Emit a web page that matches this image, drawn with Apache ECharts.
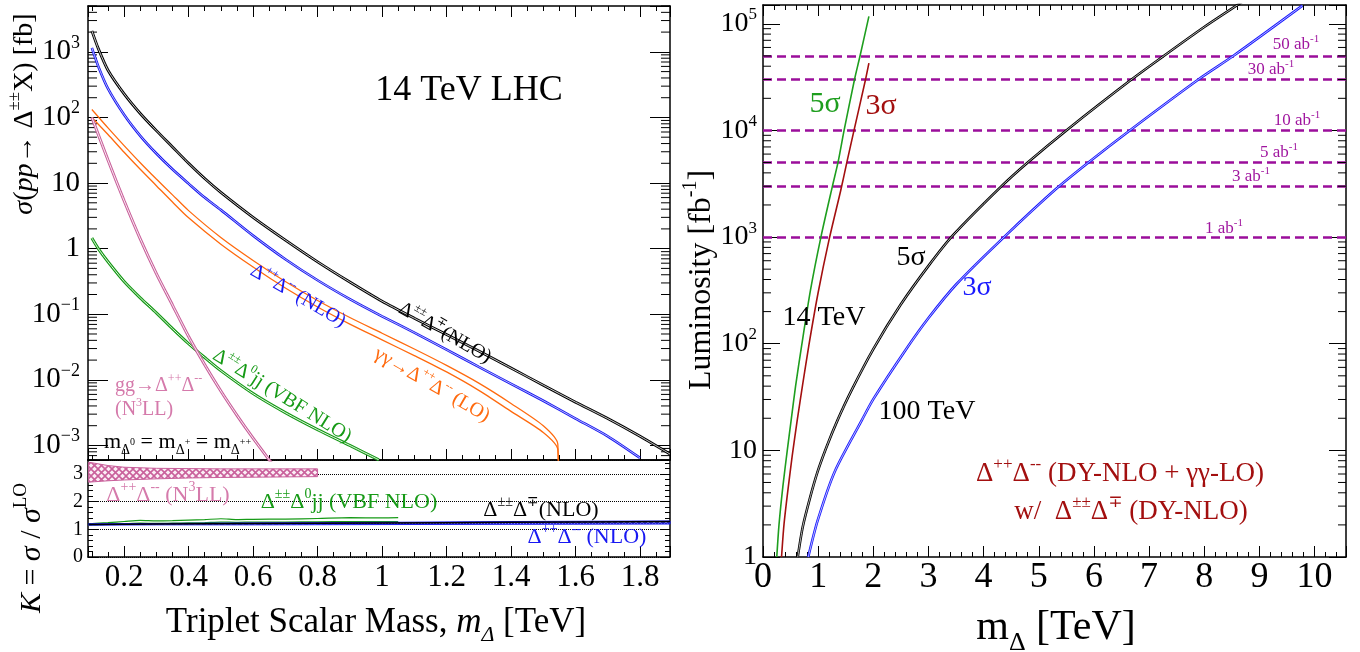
<!DOCTYPE html>
<html><head><meta charset="utf-8">
<script src="https://cdn.jsdelivr.net/npm/echarts@6/dist/echarts.min.js"></script>
<style>html,body{margin:0;padding:0;background:#fff}#c{width:1360px;height:652px}</style>
</head><body><div id="c"></div>
<script>
// ---------------- DATA ----------------
// Left top panel: cross sections sigma [fb] vs mass [TeV]
const massDYpair = [0.10,0.12,0.15,0.20,0.25,0.30,0.35,0.40,0.45,0.50,0.60,0.70,0.80,0.90,1.00,1.10,1.20,1.30,1.40,1.50,1.60,1.70,1.80,1.893];
const xsPairNLO  = [2090,1120,525,229,115,63,35.5,20,11.7,7.2,3.0,1.35,0.63,0.31,0.158,0.087,0.049,0.0275,0.0151,0.0083,0.00457,0.00257,0.00138,0.00074];
const massDYdd   = [0.10,0.12,0.15,0.20,0.25,0.30,0.35,0.40,0.45,0.50,0.60,0.70,0.80,0.90,1.00,1.10,1.20,1.30,1.40,1.50,1.60,1.70,1.80];
const xsDDNLO    = [1150,600,275,110,52.5,28.2,16.2,9.8,6.0,3.9,1.58,0.69,0.33,0.17,0.093,0.0525,0.0288,0.0158,0.0087,0.0048,0.00257,0.00138,0.000646];
const massAA     = [0.10,0.15,0.20,0.25,0.30,0.35,0.40,0.50,0.60,0.70,0.80,0.90,1.00,1.10,1.20,1.30,1.40,1.50,1.545,1.548];
const xsAAHigh   = [132,69.2,37.2,20.4,11.5,6.61,3.80,1.48,0.661,0.316,0.162,0.0891,0.0513,0.0295,0.0166,0.00891,0.00437,0.00200,0.00105,0.0001];
const xsAALow    = [100,55.0,29.5,16.2,9.12,5.13,2.95,1.17,0.525,0.251,0.129,0.0708,0.0407,0.0234,0.0132,0.00692,0.00331,0.00158,0.00087,0.0001];
const massVBF    = [0.10,0.12,0.15,0.20,0.25,0.30,0.35,0.40,0.45,0.50,0.60,0.70,0.80,0.90,0.99];
const xsVBF      = [1.45,1.0,0.631,0.316,0.178,0.105,0.0603,0.0355,0.0219,0.0138,0.00617,0.00316,0.00174,0.00100,0.000603];
const massGG     = [0.10,0.15,0.20,0.25,0.30,0.35,0.40,0.45,0.50,0.55,0.60,0.65,0.67];
const xsGG       = [100,22.4,5.37,1.41,0.417,0.138,0.0457,0.0170,0.00676,0.00288,0.00129,0.000603,0.000447];
// Left bottom panel: K factors
const kMassN3LL  = [0.09,0.15,0.20,0.30,0.40,0.50,0.60,0.70,0.80];
const kN3LLHigh  = [3.42,3.30,3.24,3.20,3.19,3.18,3.18,3.18,3.18];
const kN3LLLow   = [2.70,2.75,2.78,2.82,2.85,2.87,2.88,2.89,2.90];
const kMassVBF   = [0.09,0.15,0.20,0.25,0.30,0.35,0.40,0.45,0.50,0.55,0.60,0.70,0.80,0.90,1.00,1.05];
const kVBFHigh   = [1.20,1.24,1.28,1.32,1.30,1.31,1.33,1.35,1.38,1.35,1.36,1.37,1.39,1.42,1.41,1.42];
const kVBFLow    = [1.16,1.18,1.20,1.22,1.21,1.22,1.23,1.24,1.26,1.25,1.26,1.26,1.27,1.28,1.28,1.28];
const kMassDY    = [0.09,0.30,0.60,1.00,1.40,1.893];
const kPairNLO   = [1.17,1.19,1.21,1.23,1.25,1.28];
const kDDHigh    = [1.20,1.21,1.23,1.25,1.28,1.30];
const kDDLow     = [1.15,1.16,1.16,1.17,1.18,1.19];
// Right panel: luminosity [fb^-1] vs mass [TeV]
const mass5s14   = [0.25,0.29,0.36,0.44,0.51,0.59,0.70,0.86,1.05,1.26,1.36,1.47,1.66,1.76,1.92];
const lum5s14    = [1,2.0,4.57,10,19.1,39.8,95.5,316,1000,3020,5010,10000,30200,50100,117500];
const mass3s14   = [0.336,0.38,0.45,0.53,0.62,0.72,0.83,1.0,1.2,1.41,1.52,1.65,1.86,1.92];
const lum3s14    = [1,2.0,4.17,8.91,19.1,41.7,95.5,302,955,2750,5010,10000,30200,42700];
const mass5s100  = [0.63,0.72,0.85,0.99,1.15,1.35,1.6,2.0,2.5,3.0,3.45,4.33,4.8,5.55,6.65,7.19,8.0,8.7];
const lum5s100   = [1,1.91,3.55,6.31,10.7,19.1,36.1,89.1,234,537,1047,3020,5010,10500,29200,46800,93300,162000];
const mass3s100  = [0.82,0.99,1.3,1.79,2.0,2.57,3.0,3.51,4.37,5.31,5.9,6.65,7.9,8.53,9.78];
const lum3s100   = [1,2.19,6.31,19.1,30.2,85.1,174,363,1000,2820,5010,10000,30200,50100,147900];
const lumiLines  = [1000,3000,5000,10000,30000,50000];
const lumiLabels = ['1','3','5','10','30','50'];

// ---------------- STYLE ----------------
const FONT = "'Liberation Serif','DejaVu Serif','Times New Roman',serif";
const C = {black:'#000', blue:'#1818f2', orange:'#ff6a0e', green:'#169a16', pink:'#c9609b', pinkT:'#d57aab',
           red:'#a30f0f', purple:'#9b0e9b', blueR:'#1a1aff', greenR:'#1e9e1e'};
const X0 = [0.088, 1.893], XR = [0, 10.57], YL = [6e-4, 5000], YR = [1, 150000], YK = [0, 3.5];

function pairs(xs, ys){ return xs.map((x,i)=>[x, ys[i]]); }
function richSet(size, color){
  const s = Math.round(size*0.62), lh = Math.round(size*1.35), t = Math.round(size*0.45);
  const base = {fontFamily: FONT, color: color, fill: color};
  return {
    b:  Object.assign({}, base, {fontSize:size, lineHeight:lh}),
    i:  Object.assign({}, base, {fontSize:size, lineHeight:lh, fontStyle:'italic'}),
    sp: Object.assign({}, base, {fontSize:s, lineHeight:s, verticalAlign:'top'}),
    sb: Object.assign({}, base, {fontSize:s, lineHeight:s, verticalAlign:'bottom'}),
    sbi:Object.assign({}, base, {fontSize:s, lineHeight:s, verticalAlign:'bottom', fontStyle:'italic'}),
    ss: Object.assign({}, base, {fontSize:t, lineHeight:t, verticalAlign:'middle'})
  };
}
function T(x, y, text, size, color, rot, align){
  const a = align || 'center';
  return {type:'text', x:x, y:y, rotation:(rot||0)*Math.PI/180, z:100, silent:true,
    style:{text:text, rich:richSet(size,color), fill:color, font:size+'px '+FONT,
           align:a, verticalAlign:'middle', textAlign:a, textVerticalAlign:'middle'}};
}
function line(xi, yi, data, color, width, z){
  return {type:'line', xAxisIndex:xi, yAxisIndex:yi, data:data, showSymbol:false, symbol:'none',
    smooth:0.25, lineStyle:{color:color, width:width}, z:z, silent:true, animation:false};
}
function hollow(xi, yi, data, color, w, inner, z){
  return [line(xi, yi, data, color, w, z), line(xi, yi, data, '#ffffff', inner, z+1)];
}
function hatch(bg, fg, size, lw){
  const c = document.createElement('canvas'); c.width = c.height = size;
  const g = c.getContext('2d'); g.fillStyle = bg; g.fillRect(0,0,size,size);
  g.strokeStyle = fg; g.lineWidth = lw; g.beginPath();
  g.moveTo(0,0); g.lineTo(size,size); g.moveTo(size,0); g.lineTo(0,size); g.stroke();
  return {type:'pattern', image:c, repeat:'repeat'};
}
function band(xi, yi, xs, hi, lo, fill, stroke, z){
  return {type:'custom', xAxisIndex:xi, yAxisIndex:yi, silent:true, z:z, animation:false,
    data:[[xs[0], hi[0]]],
    renderItem:function(p, api){
      const top = xs.map((x,i)=>api.coord([x, hi[i]]));
      const bot = xs.map((x,i)=>api.coord([x, lo[i]])).reverse();
      return {type:'polygon', shape:{points: top.concat(bot)}, style:{fill:fill, stroke:stroke, lineWidth:1}};
    }};
}
function logMinors(lo, hi){
  const out = [];
  for (let e = Math.floor(Math.log10(lo)); e <= Math.ceil(Math.log10(hi)); e++)
    for (let k = 2; k <= 9; k++){ const v = k*Math.pow(10,e); if (v >= lo && v <= hi) out.push(v); }
  return out;
}
function minorTickSeries(xi, yi, xr, yr, len){
  return {type:'custom', xAxisIndex:xi, yAxisIndex:yi, silent:true, clip:false, z:5, animation:false,
    data: logMinors(yr[0], yr[1]).map(v=>[xr[0], v]),
    renderItem:function(p, api){
      const v = api.value(1);
      const a = api.coord([xr[0], v]), b = api.coord([xr[1], v]);
      return {type:'group', children:[
        {type:'line', shape:{x1:a[0], y1:a[1], x2:a[0]+len, y2:a[1]}, style:{stroke:'#000', lineWidth:1}},
        {type:'line', shape:{x1:b[0], y1:b[1], x2:b[0]-len, y2:b[1]}, style:{stroke:'#000', lineWidth:1}}]};
    }};
}
const axLine = {show:true, onZero:false, lineStyle:{color:'#000', width:1.5}};
function logFmt(v){
  const e = Math.round(Math.log10(v));
  if (Math.abs(Math.log10(v) - e) > 1e-6) return '';
  if (e === 0) return '{b|1}';
  if (e === 1) return '{b|10}';
  return '{b|10}{sp|' + (e < 0 ? '\u2212' + (-e) : e) + '}';
}
function xAx(grid, pos, xr, opts){
  return Object.assign({gridIndex:grid, type:'value', position:pos, min:xr[0], max:xr[1],
    axisLine:axLine, splitLine:{show:false},
    axisTick:{show:true, inside:true, length:11, lineStyle:{color:'#000', width:1}},
    minorTick:{show:true, splitNumber:4, length:5, lineStyle:{color:'#000', width:1}},
    axisLabel:{show:false}}, opts||{});
}
function yLog(grid, pos, yr, tickLen, labelSize, margin){
  return {gridIndex:grid, type:'log', logBase:10, position:pos, min:yr[0], max:yr[1],
    axisLine:axLine, splitLine:{show:false}, minorTick:{show:false}, minorSplitLine:{show:false},
    axisTick:{show:true, inside:true, length:tickLen, lineStyle:{color:'#000', width:1}},
    axisLabel: labelSize ? {show:true, margin:margin, formatter:logFmt, color:'#000',
      rich:{b:{fontSize:labelSize, fontFamily:FONT, color:'#000', lineHeight:Math.round(labelSize*1.25)},
            sp:{fontSize:Math.round(labelSize*0.62), fontFamily:FONT, color:'#000', verticalAlign:'top', lineHeight:Math.round(labelSize*0.62)}}}
      : {show:false}};
}
function yK(pos, labels){
  return {gridIndex:1, type:'value', position:pos, min:YK[0], max:YK[1], interval:1,
    axisLine:axLine,
    axisTick:{show:true, inside:true, length:10, lineStyle:{color:'#000', width:1}},
    minorTick:{show:true, splitNumber:5, length:5, lineStyle:{color:'#000', width:1}},
    splitLine:{show:labels, lineStyle:{type:'dotted', color:'#000', width:1}},
    axisLabel: labels ? {show:true, fontSize:20, fontFamily:FONT, color:'#000', margin:5,
      formatter:v => (v > 3.01 ? '' : String(v))} : {show:false}};
}

const chart = echarts.init(document.getElementById('c'), null, {renderer:'canvas'});
const series = [].concat(
  // left top
  [line(0,0,pairs(massAA, xsAAHigh), C.orange, 1.3, 10), line(0,0,pairs(massAA, xsAALow), C.orange, 1.3, 10)],
  hollow(0,0,pairs(massVBF, xsVBF), C.green, 3, 0.9, 12),
  hollow(0,0,pairs(massGG, xsGG), C.pink, 3, 0.9, 14),
  hollow(0,0,pairs(massDYdd, xsDDNLO), C.blue, 2.6, 0.7, 16),
  hollow(0,0,pairs(massDYpair, xsPairNLO), C.black, 2.8, 0.8, 18),
  [minorTickSeries(0,0,X0,YL,9)],
  // left bottom (K factors)
  [band(2,2,kMassN3LL,kN3LLHigh,kN3LLLow, hatch('#fbeef5', C.pink, 7, 1.6), C.pink, 10),
   line(2,2,pairs(kMassVBF,kVBFHigh), C.green, 1.2, 11),
   line(2,2,pairs(kMassVBF,kVBFLow), C.green, 1.2, 11),
   band(2,2,kMassDY,kDDHigh,kDDLow, hatch('#2c2cc4', '#8d8dff', 6, 1), C.blue, 12),
   line(2,2,pairs(kMassDY,kPairNLO), C.black, 1.5, 13)],
  // right panel
  [Object.assign(line(4,4,pairs(mass5s14,lum5s14), C.greenR, 1.6, 12), {
     markLine:{silent:true, symbol:['none','none'], animation:false, label:{show:false},
       lineStyle:{color:C.purple, type:[9,5], width:2.6},
       data: lumiLines.map(v=>({yAxis:v}))}}),
   line(4,4,pairs(mass3s14,lum3s14), C.red, 1.6, 12)],
  hollow(4,4,pairs(mass5s100,lum5s100), C.black, 2.6, 0.7, 14),
  hollow(4,4,pairs(mass3s100,lum3s100), C.blueR, 2.6, 0.7, 14),
  [minorTickSeries(4,4,XR,YR,8)]
);

const abPos = [[1224,229],[1251,177],[1279,153],[1297,121],[1271,70],[1296,45]];
const graphics = [
  T(469, 91, '{b|14 TeV LHC}', 36, C.black),
  T(298, 296, '{b|\u0394}{sp|++}{b|\u0394}{sp|--}{b| (NLO)}', 20, C.blue, -30),
  T(445, 333, '{b|\u0394}{sp|\u00b1\u00b1}{b|\u0394}{sp|\u2213}{b|(NLO)}', 20, C.black, -30),
  T(432, 385, '{b|\u03b3\u03b3\u2192\u0394}{sp|++}{b|\u0394}{sp|--}{b| (LO)}', 20, C.orange, -30),
  T(282, 396, '{b|\u0394}{sp|\u00b1\u00b1}{b|\u0394}{sp|0}{b|jj (VBF NLO)}', 20, C.green, -32),
  T(115, 386, '{b|gg\u2192\u0394}{sp|++}{b|\u0394}{sp|--}', 20, C.pinkT, 0, 'left'),
  T(115, 410, '{b|(N}{sp|3}{b|LL)}', 20, C.pinkT, 0, 'left'),
  T(104, 442, '{b|m}{sb|\u0394}{ss|0}{b| = m}{sb|\u0394}{ss|+}{b| = m}{sb|\u0394}{ss|++}', 22, C.black, 0, 'left'),
  T(168, 495, '{b|\u0394}{sp|++}{b|\u0394}{sp|--}{b| (N}{sp|3}{b|LL)}', 22, C.pinkT),
  T(349, 502, '{b|\u0394}{sp|\u00b1\u00b1}{b|\u0394}{sp|0}{b|jj (VBF NLO)}', 22, C.green),
  T(541, 510, '{b|\u0394}{sp|\u00b1\u00b1}{b|\u0394}{sp|\u2213}{b|(NLO)}', 22, C.black),
  T(587, 537, '{b|\u0394}{sp|++}{b|\u0394}{sp|--}{b| (NLO)}', 22, C.blue),
  T(25, 114, '{i|\u03c3}{b|(}{i|pp}{b|\u2192 \u0394}{sp|\u00b1\u00b1}{b|X) [fb]}', 28, C.black, 90),
  T(32, 548, '{i|K}{b| = }{i|\u03c3}{b| / }{i|\u03c3}{sp|LO}', 30, C.black, 90),
  T(376, 623, '{b|Triplet Scalar Mass, }{i|m}{sbi|\u0394}{b| [TeV]}', 35, C.black),
  T(702, 280, '{b|Luminosity [fb}{sp|-1}{b|]}', 32, C.black, 90),
  T(1056, 628, '{b|m}{sb|\u0394}{b| [TeV]}', 42, C.black),
  T(825, 104, '{b|5\u03c3}', 30, C.greenR),
  T(881, 106, '{b|3\u03c3}', 30, C.red),
  T(824, 318, '{b|14 TeV}', 28, C.black),
  T(911, 258, '{b|5\u03c3}', 28, C.black),
  T(977, 288, '{b|3\u03c3}', 28, C.blueR),
  T(927, 412, '{b|100 TeV}', 28, C.black),
  T(1120, 474, '{b|\u0394}{sp|++}{b|\u0394}{sp|--}{b| (DY-NLO + \u03b3\u03b3-LO)}', 27, C.red),
  T(1131, 512, '{b|w/  \u0394}{sp|\u00b1\u00b1}{b|\u0394}{sp|\u2213}{b| (DY-NLO)}', 27, C.red)
].concat(lumiLabels.map((s,i)=>T(abPos[i][0], abPos[i][1], '{b|'+s+' ab}{sp|-1}', 17, '#a0169f')));

chart.setOption({
  animation:false,
  backgroundColor:'#ffffff',
  textStyle:{fontFamily:FONT},
  grid:[
    {left:88, top:6, width:582, height:454, outerBoundsMode:'none', containLabel:false},
    {left:88, top:460, width:582, height:97, outerBoundsMode:'none', containLabel:false},
    {left:763, top:5, width:583, height:552, outerBoundsMode:'none', containLabel:false}
  ],
  xAxis:[
    xAx(0,'bottom',X0,{splitNumber:9, minInterval:0.2, maxInterval:0.2}),
    xAx(0,'top',X0,{splitNumber:9, minInterval:0.2, maxInterval:0.2}),
    xAx(1,'bottom',X0,{splitNumber:9, minInterval:0.2, maxInterval:0.2,
      axisLabel:{show:true, fontSize:31, fontFamily:FONT, color:'#000', margin:5,
        formatter:v => { const r = Math.round(v*5)/5; return Math.abs(v-r) < 1e-6 ? String(+r.toFixed(1)) : ''; }}}),
    xAx(1,'top',X0,{axisTick:{show:false}, minorTick:{show:false}}),
    xAx(2,'bottom',XR,{interval:1, minorTick:{show:true, splitNumber:5, length:5, lineStyle:{color:'#000', width:1}},
      axisLabel:{show:true, fontSize:36, fontFamily:FONT, color:'#000', margin:3,
        formatter:v => (Math.abs(v-Math.round(v)) < 1e-6 && v <= 10.01 ? String(Math.round(v)) : '')}}),
    xAx(2,'top',XR,{interval:1, minorTick:{show:true, splitNumber:5, length:5, lineStyle:{color:'#000', width:1}}})
  ],
  yAxis:[
    yLog(0,'left',YL,20,29,8),
    yLog(0,'right',YL,20,0,0),
    yK('left', true),
    yK('right', false),
    yLog(2,'left',YR,17,28,6),
    yLog(2,'right',YR,17,0,0)
  ],
  series: series,
  graphic: graphics
});
</script></body></html>
